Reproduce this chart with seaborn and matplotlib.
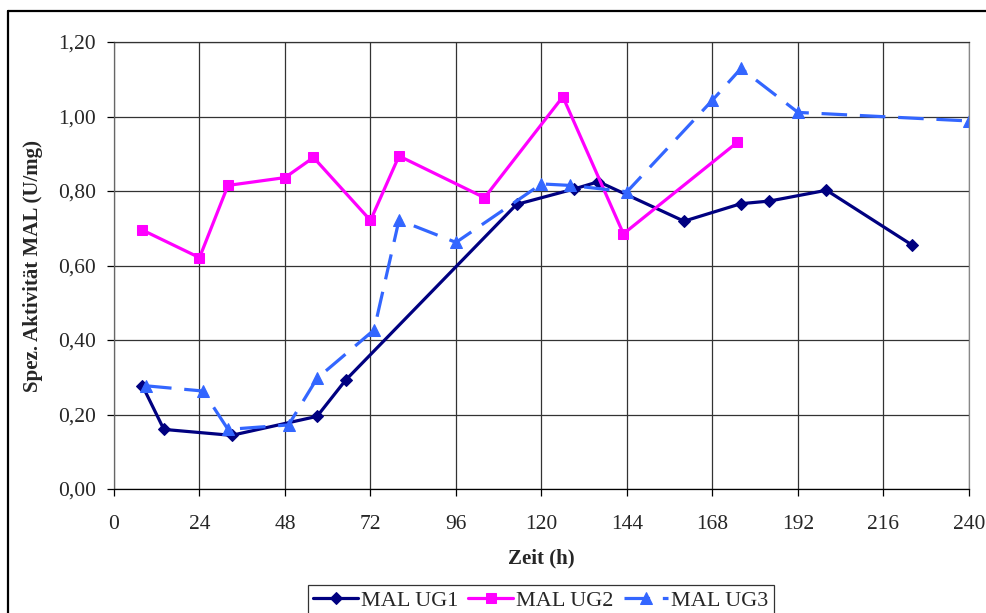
import matplotlib
matplotlib.use("Agg")
import matplotlib.pyplot as plt
from matplotlib.lines import Line2D
from matplotlib.ticker import FuncFormatter
import seaborn as sns

# time points (h) and specific activity (U/mg) per culture
ug1_t = [8, 14, 33, 57, 65, 113, 129, 136, 160, 176, 184, 200, 224]
ug1_v = [0.277, 0.160, 0.144, 0.195, 0.292, 0.764, 0.805, 0.825, 0.719, 0.766, 0.773, 0.802, 0.655]

ug2_t = [8, 24, 32, 48, 56, 72, 80, 104, 126, 143, 175]
ug2_v = [0.695, 0.621, 0.815, 0.836, 0.890, 0.721, 0.894, 0.782, 1.053, 0.685, 0.931]

ug3_t = [9, 25, 32, 49, 57, 73, 80, 96, 120, 128, 144, 168, 176, 192, 240]
ug3_v = [0.277, 0.263, 0.160, 0.172, 0.297, 0.427, 0.722, 0.662, 0.819, 0.815, 0.798, 1.044, 1.129, 1.011, 0.988]

labels = ["MAL UG1", "MAL UG2", "MAL UG3"]
x_ticks = list(range(0, 241, 24))
y_ticks = [0.0, 0.2, 0.4, 0.6, 0.8, 1.0, 1.2]

sns.set_style("white")
plt.rcParams["font.family"] = ["Liberation Serif", "DejaVu Serif"]

W, H = 987, 613
fig = plt.figure(figsize=(W / 100, H / 100), dpi=100)
ax = fig.add_axes([114 / W, (H - 489) / H, 855 / W, 447 / H])

sns.lineplot(x=ug1_t, y=ug1_v, ax=ax, color="#000080", lw=2.3, marker="D",
             markersize=6.5, markeredgecolor="#000080", label=labels[0])
sns.lineplot(x=ug2_t, y=ug2_v, ax=ax, color="#FF00FF", lw=2.3, marker="s",
             markersize=7.5, markeredgecolor="#FF00FF", label=labels[1])
sns.lineplot(x=ug3_t, y=ug3_v, ax=ax, color="#3366FF", lw=2.3, marker="^",
             markersize=8, markeredgecolor="#3366FF", linestyle=(0, (8, 4)),
             label=labels[2])

ax.set_xlim(0, 240)
ax.set_ylim(0, 1.2)
ax.set_xticks(x_ticks)
ax.set_yticks(y_ticks)
ax.yaxis.set_major_formatter(FuncFormatter(lambda v, p: f"{v:.2f}".replace(".", ",")))
ax.grid(True, color="#333333", lw=0.9)
ax.set_axisbelow(True)
ax.tick_params(axis="both", direction="out", length=5, width=0.9, color="black",
               labelsize=15.5, bottom=True, left=True)
ax.tick_params(axis="x", pad=14)
ax.tick_params(axis="y", pad=8)
for side in ["left", "bottom", "top", "right"]:
    ax.spines[side].set_visible(True)
    ax.spines[side].set_linewidth(0.9)
ax.spines["left"].set_color("#666666")
ax.spines["bottom"].set_color("black")
ax.spines["top"].set_color("#333333")
ax.spines["right"].set_color("#888888")

ax.set_xlabel("Zeit (h)", fontsize=15, fontweight="bold")
ax.set_ylabel("Spez. Aktivität MAL (U/mg)", fontsize=15, fontweight="bold")
ax.xaxis.set_label_coords(0.5, (489 - 548) / 447)
ax.yaxis.set_label_coords((43 - 114) / 855, 0.5)

leg = ax.legend(loc="upper center", bbox_to_anchor=(541 / W, (H - 585) / H),
                bbox_transform=fig.transFigure, ncol=3, frameon=True,
                fancybox=False, fontsize=16, handlelength=2.0, columnspacing=0.45,
                handletextpad=0.15, borderpad=0.25, borderaxespad=0)
leg.get_frame().set_edgecolor("black")
leg.get_frame().set_linewidth(0.9)

# outer chart border
fig.add_artist(Line2D([8 / W, 8 / W], [0, 1 - 11 / H], color="black", lw=1.6))
fig.add_artist(Line2D([8 / W, 1], [1 - 11 / H, 1 - 11 / H], color="black", lw=1.6))

fig.savefig("out.png", dpi=100)
